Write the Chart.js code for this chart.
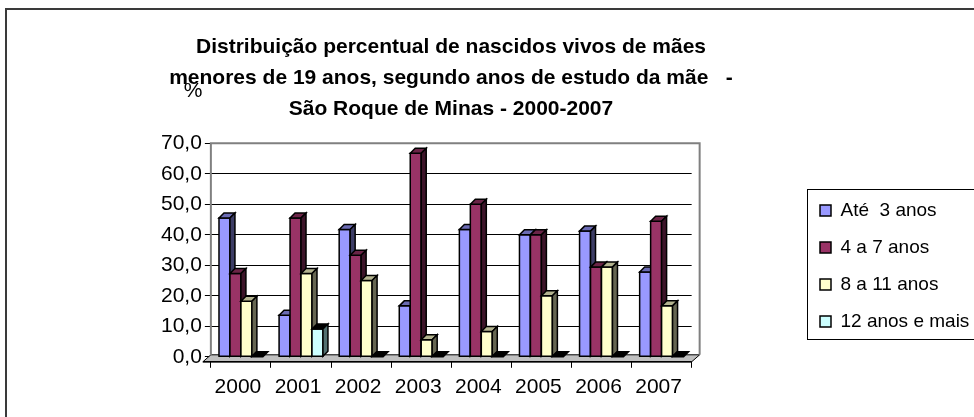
<!DOCTYPE html>
<html lang="pt">
<head>
<meta charset="UTF-8" />
<title>Nascidos vivos de mães menores de 19 anos - São Roque de Minas</title>
<script src="https://cdn.jsdelivr.net/npm/chart.js"></script>
<style>
body { margin: 0; background: #fff; }
.frame {
    position: absolute;
    left: 5px;
    top: 8px;
    width: 1200px;
    height: 800px;
    border: 2px solid #3a3a3a;
}
.chart-box {
    position: absolute;
    left: 0;
    top: 0;
    width: 974px;
    height: 417px;
}
</style>
</head>
<body>
<div class="frame"></div>
<div class="chart-box"><canvas id="nascChart"></canvas></div>

<script>
// dados (%)
const anos = ['2000', '2001', '2002', '2003', '2004', '2005', '2006', '2007'];
const ate3 = [45.5, 13.6, 41.7, 16.7, 41.7, 40.0, 41.2, 27.8];
const de4a7 = [27.3, 45.5, 33.3, 66.7, 50.0, 40.0, 29.4, 44.4];
const de8a11 = [18.2, 27.3, 25.0, 5.6, 8.3, 20.0, 29.4, 16.7];
const mais12 = [0.0, 9.1, 0.0, 0.0, 0.0, 0.0, 0.0, 0.0];
const yTicks = ['0,0', '10,0', '20,0', '30,0', '40,0', '50,0', '60,0', '70,0'];

const frontColors = ['#9999FF', '#993366', '#FFFFCC', '#CCFFFF'];
const topColors = ['#6B6BB3', '#6B2447', '#B3B38F', '#000000'];
const sideColors = ['#3D3D66', '#3D1429', '#666652', '#527070'];
const depth = 5;
const fontFam = '"Liberation Sans", Arial, sans-serif';

function poly(ctx, pts, fill) {
    ctx.beginPath();
    ctx.moveTo(pts[0][0], pts[0][1]);
    for (let i = 1; i < pts.length; i++) ctx.lineTo(pts[i][0], pts[i][1]);
    ctx.closePath();
    ctx.fillStyle = fill;
    ctx.fill();
    ctx.stroke();
}

// paredes, chão e faces 3D das barras
const bar3d = {
    id: 'bar3d',
    afterLayout(chart) {
        const lg = chart.legend;
        lg.left = 802;
        lg.top = 183;
        lg.right = lg.left + lg.width;
        lg.bottom = lg.top + lg.height;
        const t = chart.titleBlock;
        t.left = 140;
        t.right = 762;
        t.width = t.right - t.left;
    },
    beforeDatasetsDraw(chart) {
        const ctx = chart.ctx;
        const { left, right, top, bottom } = chart.chartArea;
        ctx.save();
        ctx.lineWidth = 1;
        ctx.strokeStyle = '#000';
        poly(ctx, [[left, bottom - 2], [right + 8, bottom - 2], [right, bottom + 5], [left - 8, bottom + 5]], '#C0C0C0');
        ctx.strokeStyle = '#808080';
        ctx.lineWidth = 2;
        ctx.beginPath();
        ctx.moveTo(left, bottom - 2);
        ctx.lineTo(left, top);
        ctx.lineTo(right + 8, top);
        ctx.lineTo(right + 8, bottom - 2);
        ctx.stroke();
        ctx.strokeStyle = '#000';
        ctx.lineWidth = 1.5;
        ctx.beginPath();
        ctx.moveTo(left - 8, bottom + 5);
        ctx.lineTo(right, bottom + 5);
        ctx.stroke();
        ctx.restore();
    },
    afterDatasetsDraw(chart) {
        const ctx = chart.ctx;
        const d = depth;
        const metas = chart.data.datasets.map((ds, i) => chart.getDatasetMeta(i));
        ctx.save();
        ctx.lineWidth = 1.5;
        ctx.strokeStyle = '#000';
        ctx.lineJoin = 'miter';
        anos.forEach((a, j) => {
            metas.forEach((meta, i) => {
                const p = meta.data[j].getProps(['x', 'y', 'base', 'width'], true);
                const x0 = p.x - p.width / 2, x1 = p.x + p.width / 2;
                const h = p.base - p.y;
                if (h > 0.5) {
                    poly(ctx, [[x0, p.y], [x1, p.y], [x1, p.base], [x0, p.base]], frontColors[i]);
                }
                poly(ctx, [[x0, p.y], [x0 + d, p.y - d], [x1 + d, p.y - d], [x1, p.y]], h > 0.5 ? topColors[i] : '#000');
                if (h > 0.5) {
                    poly(ctx, [[x1, p.y], [x1 + d, p.y - d], [x1 + d, p.base - d], [x1, p.base]], sideColors[i]);
                }
            });
        });
        ctx.restore();
    },
    afterDraw(chart) {
        const ctx = chart.ctx;
        ctx.save();
        ctx.strokeStyle = '#000';
        ctx.lineWidth = 1;
        ctx.strokeRect(807.5, 189.5, 200, 150);
        ctx.fillStyle = '#000';
        ctx.font = '21px ' + fontFam;
        ctx.textAlign = 'center';
        ctx.textBaseline = 'middle';
        ctx.fillText('%', 193, 91);
        ctx.restore();
    }
};

const series = [
    { label: 'Até  3 anos', data: ate3 },
    { label: '4 a 7 anos', data: de4a7 },
    { label: '8 a 11 anos', data: de8a11 },
    { label: '12 anos e mais', data: mais12 }
];

new Chart(document.getElementById('nascChart'), {
    type: 'bar',
    data: {
        labels: anos,
        datasets: series.map((s, i) => ({
            label: s.label,
            data: s.data,
            backgroundColor: frontColors[i],
            borderColor: '#000',
            borderWidth: 1.5,
            borderSkipped: false,
            categoryPercentage: 0.73,
            barPercentage: 1.0
        }))
    },
    options: {
        responsive: true,
        maintainAspectRatio: false,
        animation: false,
        layout: { padding: { left: 158, right: 105, top: 32, bottom: 10 } },
        plugins: {
            title: {
                display: true,
                fullSize: false,
                text: [
                    'Distribuição percentual de nascidos vivos de mães',
                    'menores de 19 anos, segundo anos de estudo da mãe   -',
                    'São Roque de Minas - 2000-2007'
                ],
                color: '#000',
                font: { family: fontFam, size: 21, weight: 'bold', lineHeight: 1.48 },
                padding: { top: 0, bottom: 18 }
            },
            legend: {
                position: 'right',
                align: 'start',
                labels: {
                    color: '#000',
                    boxWidth: 11,
                    boxHeight: 11,
                    padding: 18,
                    font: { family: fontFam, size: 19 },
                    generateLabels(chart) {
                        const items = Chart.defaults.plugins.legend.labels.generateLabels(chart);
                        items.forEach(it => { it.lineWidth = 1.5; it.strokeStyle = '#000'; });
                        return items;
                    }
                }
            },
            tooltip: { enabled: false }
        },
        scales: {
            x: {
                grid: { drawOnChartArea: false, drawTicks: true, tickLength: 11, color: '#000', offset: true },
                border: { display: false },
                ticks: { color: '#000', padding: 7, labelOffset: -3, font: { family: fontFam, size: 21 } }
            },
            y: {
                min: 0,
                max: 70,
                grid: { color: '#000', lineWidth: 1, tickLength: 6, tickColor: '#000' },
                border: { display: false },
                ticks: {
                    stepSize: 10,
                    color: '#000',
                    padding: 3,
                    font: { family: fontFam, size: 21 },
                    callback: (v, idx) => yTicks[idx]
                }
            }
        }
    },
    plugins: [bar3d]
});
</script>
</body>
</html>
